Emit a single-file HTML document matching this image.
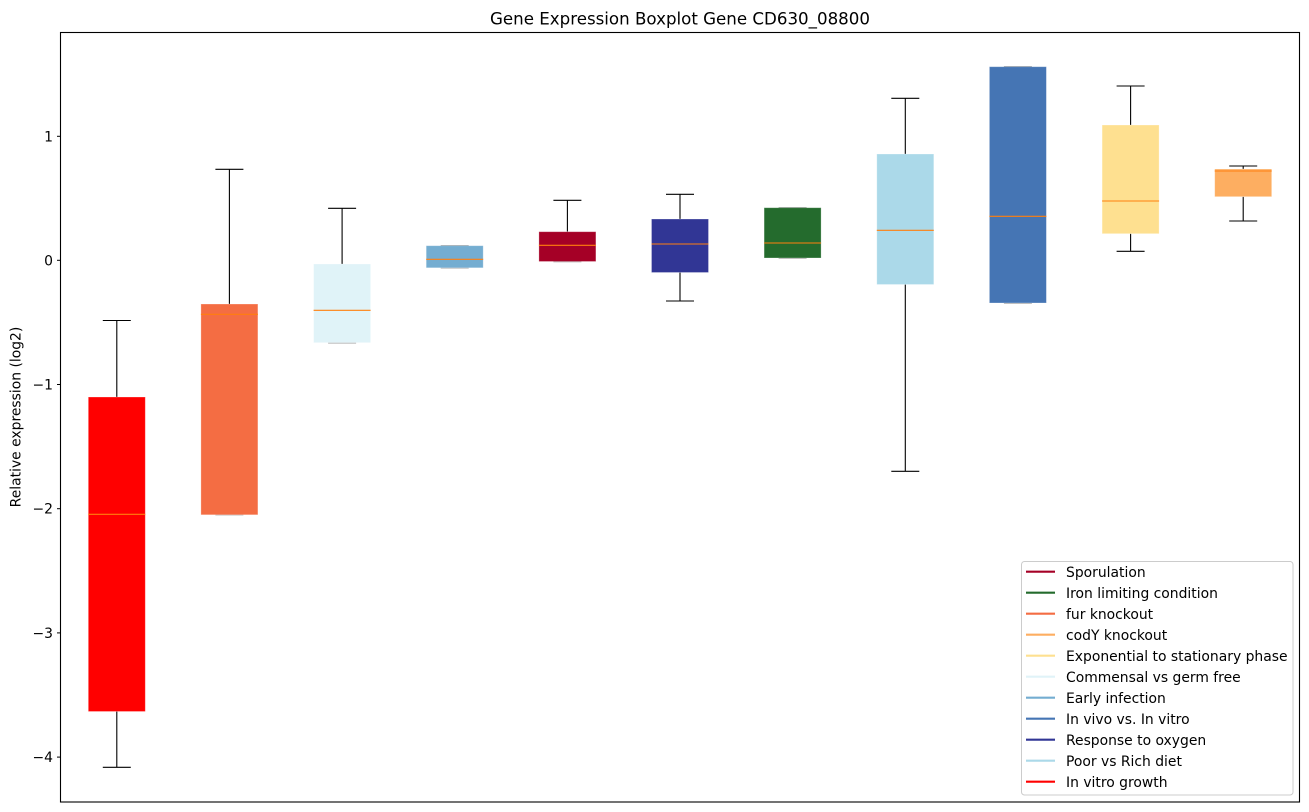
<!DOCTYPE html>
<html><head><meta charset="utf-8"><style>
html,body{margin:0;padding:0;background:#fff;}
svg{display:block;font-family:"DejaVu Sans","Liberation Sans",sans-serif;}
</style></head><body>
<svg width="1309" height="812" viewBox="0 0 1309 812" xmlns="http://www.w3.org/2000/svg">
<rect width="1309" height="812" fill="#fff"/>
<text x="680" y="24.5" font-size="16.67" text-anchor="middle" fill="#000">Gene Expression Boxplot Gene CD630_08800</text>

<g stroke="#000" stroke-width="1.1" fill="none">
<line x1="116.8" y1="320.5" x2="116.8" y2="397"/><line x1="116.8" y1="711.5" x2="116.8" y2="767.3"/>
<line x1="102.8" y1="320.5" x2="130.8" y2="320.5"/><line x1="102.8" y1="767.3" x2="130.8" y2="767.3"/>
<line x1="229.4" y1="169.3" x2="229.4" y2="304"/>
<line x1="215.4" y1="169.3" x2="243.4" y2="169.3"/><line x1="215.4" y1="514.8" x2="243.4" y2="514.8" stroke="#999"/>
<line x1="342.1" y1="208.3" x2="342.1" y2="264"/>
<line x1="328.1" y1="208.3" x2="356.1" y2="208.3"/><line x1="328.1" y1="342.9" x2="356.1" y2="342.9" stroke="#999"/>
<line x1="440.7" y1="245.5" x2="468.7" y2="245.5" stroke="#999"/><line x1="440.7" y1="268" x2="468.7" y2="268" stroke="#999"/>
<line x1="567.4" y1="200.3" x2="567.4" y2="231.7"/>
<line x1="553.4" y1="200.3" x2="581.4" y2="200.3"/><line x1="553.4" y1="261.7" x2="581.4" y2="261.7" stroke="#999"/>
<line x1="680" y1="194.3" x2="680" y2="219"/><line x1="680" y1="272.5" x2="680" y2="301"/>
<line x1="666" y1="194.3" x2="694" y2="194.3"/><line x1="666" y1="301" x2="694" y2="301"/>
<line x1="778.6" y1="207.5" x2="806.6" y2="207.5" stroke="#999"/><line x1="778.6" y1="258.2" x2="806.6" y2="258.2" stroke="#999"/>
<line x1="905.3" y1="98.3" x2="905.3" y2="154"/><line x1="905.3" y1="284.5" x2="905.3" y2="471.3"/>
<line x1="891.3" y1="98.3" x2="919.3" y2="98.3"/><line x1="891.3" y1="471.3" x2="919.3" y2="471.3"/>
<line x1="1003.9" y1="66.5" x2="1031.9" y2="66.5" stroke="#999"/><line x1="1003.9" y1="303.2" x2="1031.9" y2="303.2" stroke="#999"/>
<line x1="1130.6" y1="86" x2="1130.6" y2="125"/><line x1="1130.6" y1="233.7" x2="1130.6" y2="251.3"/>
<line x1="1116.6" y1="86" x2="1144.6" y2="86"/><line x1="1116.6" y1="251.3" x2="1144.6" y2="251.3"/>
<line x1="1243.2" y1="166" x2="1243.2" y2="169"/><line x1="1243.2" y1="196.7" x2="1243.2" y2="221"/>
<line x1="1229.2" y1="166" x2="1257.2" y2="166"/><line x1="1229.2" y1="221" x2="1257.2" y2="221"/>
</g>

<g stroke-width="0.8" stroke-opacity="0.35" stroke="#fff">
<rect x="88.3" y="397" width="57" height="314.5" fill="#ff0000"/>
<rect x="200.9" y="304" width="57" height="210.8" fill="#f46d43"/>
<rect x="313.6" y="264" width="57" height="78.7" fill="#e0f3f8"/>
<rect x="426.2" y="245.7" width="57" height="22.1" fill="#74add1"/>
<rect x="538.9" y="231.7" width="57" height="29.8" fill="#a50026"/>
<rect x="651.5" y="219" width="57" height="53.5" fill="#313695"/>
<rect x="764.1" y="207.7" width="57" height="50.3" fill="#246b2d"/>
<rect x="876.8" y="154" width="57" height="130.5" fill="#abd9e9"/>
<rect x="989.4" y="66.7" width="57" height="236.3" fill="#4575b4"/>
<rect x="1102.1" y="125" width="57" height="108.7" fill="#fee090"/>
<rect x="1214.7" y="169" width="57" height="27.7" fill="#fdae61"/>
</g>

<g stroke="#ff7f0e" stroke-width="1.1">
<line x1="88.3" y1="514.3" x2="145.3" y2="514.3"/>
<line x1="200.9" y1="314.3" x2="257.9" y2="314.3"/>
<line x1="313.6" y1="310.3" x2="370.6" y2="310.3"/>
<line x1="426.2" y1="259.3" x2="483.2" y2="259.3"/>
<line x1="538.9" y1="245.3" x2="595.9" y2="245.3"/>
<line x1="651.5" y1="244" x2="708.5" y2="244"/>
<line x1="764.1" y1="243" x2="821.1" y2="243"/>
<line x1="876.8" y1="230.3" x2="933.8" y2="230.3"/>
<line x1="989.4" y1="216.3" x2="1046.4" y2="216.3"/>
<line x1="1102.1" y1="201" x2="1159.1" y2="201"/>
<line x1="1214.7" y1="171" x2="1271.7" y2="171"/>
</g>

<rect x="60.5" y="32.5" width="1239" height="769.5" fill="none" stroke="#000" stroke-width="1.1"/>

<g stroke="#000" stroke-width="1">
<line x1="57" y1="136.3" x2="60.5" y2="136.3"/>
<line x1="57" y1="260.3" x2="60.5" y2="260.3"/>
<line x1="57" y1="384.5" x2="60.5" y2="384.5"/>
<line x1="57" y1="508.7" x2="60.5" y2="508.7"/>
<line x1="57" y1="632.9" x2="60.5" y2="632.9"/>
<line x1="57" y1="757.1" x2="60.5" y2="757.1"/>
</g>
<g font-size="13.9" text-anchor="end" fill="#000">
<text x="53" y="141.3">1</text>
<text x="53" y="265.3">0</text>
<text x="53" y="389.5">−1</text>
<text x="53" y="513.7">−2</text>
<text x="53" y="637.9">−3</text>
<text x="53" y="762.1">−4</text>
</g>
<text transform="translate(20.5,417) rotate(-90)" font-size="13.9" text-anchor="middle" fill="#000">Relative expression (log2)</text>

<rect x="1021.5" y="561.5" width="271.5" height="233.5" rx="3" fill="#fff" fill-opacity="0.8" stroke="#ccc" stroke-width="1"/>
<g stroke-width="2.1">
<line x1="1026" y1="571.7" x2="1055" y2="571.7" stroke="#a50026"/>
<line x1="1026" y1="592.7" x2="1055" y2="592.7" stroke="#246b2d"/>
<line x1="1026" y1="613.7" x2="1055" y2="613.7" stroke="#f46d43"/>
<line x1="1026" y1="634.7" x2="1055" y2="634.7" stroke="#fdae61"/>
<line x1="1026" y1="655.7" x2="1055" y2="655.7" stroke="#fee090"/>
<line x1="1026" y1="676.7" x2="1055" y2="676.7" stroke="#e0f3f8"/>
<line x1="1026" y1="697.7" x2="1055" y2="697.7" stroke="#74add1"/>
<line x1="1026" y1="718.7" x2="1055" y2="718.7" stroke="#4575b4"/>
<line x1="1026" y1="739.7" x2="1055" y2="739.7" stroke="#313695"/>
<line x1="1026" y1="760.7" x2="1055" y2="760.7" stroke="#abd9e9"/>
<line x1="1026" y1="781.7" x2="1055" y2="781.7" stroke="#ff0000"/>
</g>
<g font-size="13.9" fill="#000">
<text x="1066" y="577">Sporulation</text>
<text x="1066" y="598">Iron limiting condition</text>
<text x="1066" y="619">fur knockout</text>
<text x="1066" y="640">codY knockout</text>
<text x="1066" y="661">Exponential to stationary phase</text>
<text x="1066" y="682">Commensal vs germ free</text>
<text x="1066" y="703">Early infection</text>
<text x="1066" y="724">In vivo vs. In vitro</text>
<text x="1066" y="745">Response to oxygen</text>
<text x="1066" y="766">Poor vs Rich diet</text>
<text x="1066" y="787">In vitro growth</text>
</g>
</svg>
</body></html>
